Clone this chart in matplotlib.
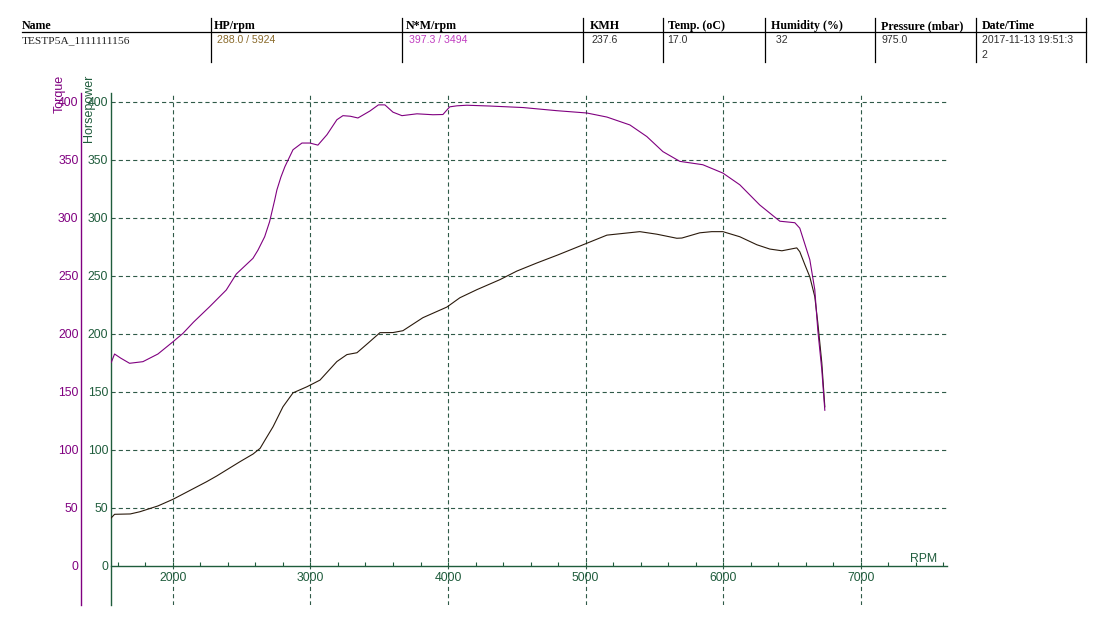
import matplotlib
matplotlib.use("Agg")
import matplotlib.pyplot as plt
from matplotlib.lines import Line2D
from matplotlib.ticker import MultipleLocator

plt.rcParams['font.family'] = ['Liberation Sans', 'DejaVu Sans']
plt.rcParams['lines.scale_dashes'] = False

# ---------------- data ----------------
rpm_torque = [1552, 1576, 1620, 1685, 1782, 1891, 2000, 2073, 2150, 2267, 2388, 2461,
              2582, 2618, 2667, 2703, 2740, 2756, 2785, 2814, 2873, 2938, 2996, 3054,
              3120, 3192, 3236, 3290, 3345, 3432, 3494, 3541, 3600, 3665, 3774, 3890,
              3963, 4012, 4065, 4137, 4305, 4545, 4790, 5009, 5155, 5322, 5445, 5562,
              5685, 5852, 5998, 6121, 6266, 6412, 6521, 6557, 6630, 6666, 6688, 6717, 6739]
torque = [175.3, 182.5, 179.0, 174.5, 175.9, 182.5, 193.0, 200.3, 210.0, 223.3, 237.7, 251.5,
          265.0, 272.0, 283.6, 296.6, 315.3, 324.0, 335.0, 344.0, 358.6, 364.4, 364.4, 362.6,
          371.6, 384.5, 388.0, 387.5, 386.0, 392.0, 397.3, 397.3, 391.0, 388.0, 389.6, 388.8,
          389.0, 395.6, 396.5, 397.0, 396.3, 395.0, 392.3, 390.3, 386.8, 380.0, 370.0, 357.0,
          348.6, 345.7, 338.5, 328.4, 311.0, 297.0, 295.7, 291.0, 263.8, 238.0, 203.0, 169.0, 134.0]

rpm_hp = [1550, 1576, 1690, 1760, 1891, 2000, 2245, 2318, 2488, 2583, 2634, 2670, 2728,
          2800, 2873, 2975, 3069, 3192, 3265, 3338, 3420, 3505, 3600, 3672, 3817, 3992,
          4086, 4210, 4377, 4500, 4646, 4800, 5009, 5155, 5394, 5518, 5663, 5700, 5830,
          5917, 5998, 6121, 6245, 6339, 6427, 6535, 6557, 6594, 6630, 6666, 6688, 6717, 6739]
hp = [41.0, 44.3, 44.6, 46.5, 51.5, 57.2, 72.4, 77.3, 89.7, 96.3, 101.2, 108.4, 119.8,
      137.0, 149.0, 154.3, 160.0, 176.0, 182.0, 183.6, 192.0, 200.9, 201.0, 202.6, 213.8, 223.0,
      231.0, 238.0, 246.6, 254.0, 261.0, 268.0, 278.0, 285.0, 288.0, 285.8, 282.3, 282.5, 287.0,
      288.0, 288.0, 283.6, 276.7, 273.0, 271.5, 274.0, 270.7, 259.5, 249.0, 232.0, 209.5, 175.0, 137.0]

headers = ["Name", "HP/rpm", "N*M/rpm", "KMH", "Temp. (oC)", "Humidity (%)",
           "Pressure (mbar)", "Date/Time"]
values = ["TESTP5A_1111111156", "288.0 / 5924", "397.3 / 3494", "237.6", "17.0",
          " 32", "975.0", "2017-11-13 19:51:3"]
value_extra = "2"

y_ticks = [0, 50, 100, 150, 200, 250, 300, 350, 400]
x_major = [2000, 3000, 4000, 5000, 6000, 7000]

# ---------------- style ----------------
W, H = 1114, 639
PURPLE = '#800080'
GREEN = '#1f5c3c'
GRID = '#2f5a48'
HPLINE = '#2a1a0c'
VAL_COLORS = ['#202020', '#8a6a2a', '#c03cc0', '#303030', '#303030', '#303030', '#303030', '#303030']


def fx(x):
    return x / W


def fy(y):
    return 1 - y / H


fig = plt.figure(figsize=(W / 100, H / 100), dpi=100)
fig.patch.set_facecolor('white')

# ---------------- table header ----------------
col_x_head = [22, 214, 406, 590, 668, 771, 881, 982]
col_x_val = [22, 217, 409, 591, 667, 773, 881, 982]
seps = [211, 402, 583, 663, 765, 875, 976, 1086]
for xh, txt in zip(col_x_head, headers):
    fig.text(fx(xh), fy(29), txt, fontsize=8.6, fontweight='bold',
             family=['Liberation Serif', 'DejaVu Serif'], va='baseline', ha='left', color='black')
for i, (xv, txt) in enumerate(zip(col_x_val, values)):
    fam = ['Liberation Serif', 'DejaVu Serif'] if i == 0 else ['Liberation Sans', 'DejaVu Sans']
    fs = 8.2 if i == 0 else 7.6
    fig.text(fx(xv), fy(43), txt, fontsize=fs, family=fam, va='baseline', ha='left',
             color=VAL_COLORS[i])
fig.text(fx(982), fy(58), value_extra, fontsize=7.6, va='baseline', ha='left', color='#303030')

fig.add_artist(Line2D([fx(22), fx(1086)], [fy(31.5), fy(31.5)], transform=fig.transFigure,
                      color='black', lw=0.9))
for s in seps:
    fig.add_artist(Line2D([fx(s), fx(s)], [fy(18), fy(62)], transform=fig.transFigure,
                          color='black', lw=0.9))

# ---------------- chart ----------------
ax = fig.add_axes([fx(111), fy(605), (946.7 - 111) / W, (605 - 92.7) / H])
ax.set_xlim(1550, 7625)
ax.set_ylim(-33.9, 407.8)

ax.plot(rpm_hp, hp, color=HPLINE, lw=0.8, zorder=3)
ax.plot(rpm_torque, torque, color=PURPLE, lw=0.8, zorder=4)

for sp in ['top', 'right']:
    ax.spines[sp].set_visible(False)
ax.spines['left'].set_color(GREEN)
ax.spines['left'].set_linewidth(1.0)
ax.spines['bottom'].set_position(('data', 0))
ax.spines['bottom'].set_color(GREEN)
ax.spines['bottom'].set_linewidth(1.0)

ax.set_yticks(y_ticks)
ax.set_xticks(x_major)
ax.xaxis.set_minor_locator(MultipleLocator(200))
ax.tick_params(axis='y', length=0, pad=2, labelsize=8.8, labelcolor=GREEN)
ax.tick_params(axis='x', which='both', direction='in', length=3, width=0.8, color=GREEN,
               labelsize=8.8, labelcolor=GREEN, pad=4.5)

dash = (0, (3.0, 2.2))
for v in y_ticks[1:]:
    ax.axhline(v, color=GRID, lw=0.8, linestyle=dash, zorder=1)
for v in x_major:
    ax.axvline(v, color=GRID, lw=0.8, linestyle=dash, zorder=1)

# torque axis (second left spine)
ax2 = ax.twinx()
ax2.set_ylim(ax.get_ylim())
ax2.spines['right'].set_visible(False)
ax2.spines['top'].set_visible(False)
ax2.spines['bottom'].set_visible(False)
ax2.spines['left'].set_visible(True)
ax2.spines['left'].set_position(('outward', 21.4))
ax2.spines['left'].set_color(PURPLE)
ax2.spines['left'].set_linewidth(1.0)
ax2.yaxis.set_ticks_position('left')
ax2.yaxis.set_label_position('left')
ax2.set_yticks(y_ticks)
ax2.tick_params(axis='y', length=0, pad=2, labelsize=8.8, labelcolor=PURPLE)

# axis titles
fig.text(fx(60), fy(75), 'Torque', rotation=90, va='top', ha='center', color=PURPLE, fontsize=9)
fig.text(fx(89), fy(75), 'Horsepower', rotation=90, va='top', ha='center', color=GREEN, fontsize=9)
fig.text(fx(924), fy(559), 'RPM', va='center', ha='center', color=GREEN, fontsize=8.8)

fig.savefig('out.png', dpi=100, facecolor='white')
